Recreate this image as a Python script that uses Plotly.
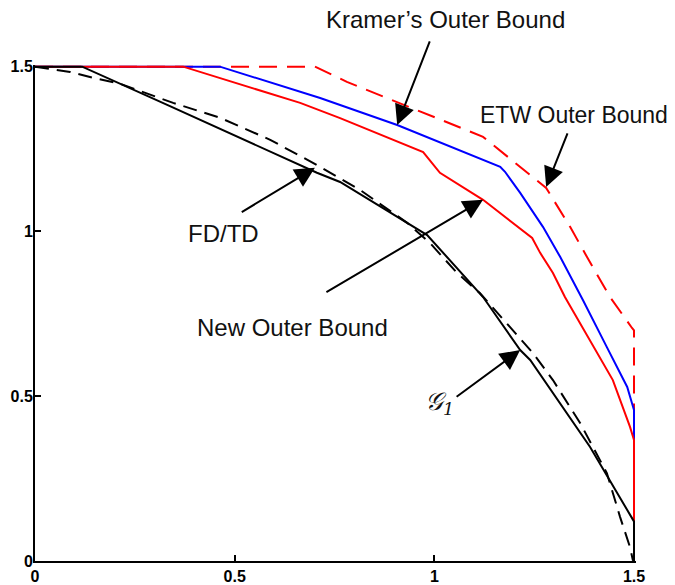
import plotly.graph_objects as go

# ---------------- data ----------------
etw_x = [0.0, 0.701, 0.781, 1.122, 1.280, 1.340, 1.382, 1.440, 1.495, 1.5, 1.5]
etw_y = [1.5, 1.5, 1.454, 1.287, 1.132, 1.014, 0.923, 0.801, 0.707, 0.70, 0.0]

kramer_x = [0.0, 0.463, 0.714, 0.907, 1.165, 1.177, 1.215, 1.272, 1.315, 1.372, 1.432, 1.483, 1.5, 1.5]
kramer_y = [1.5, 1.5, 1.405, 1.323, 1.196, 1.181, 1.117, 1.014, 0.923, 0.792, 0.649, 0.528, 0.458, 0.0]

new_x = [0.0, 0.371, 0.664, 0.764, 0.972, 1.014, 1.122, 1.172, 1.245, 1.265, 1.297, 1.327, 1.390, 1.447, 1.490, 1.5, 1.5]
new_y = [1.5, 1.5, 1.390, 1.344, 1.241, 1.178, 1.096, 1.050, 0.980, 0.935, 0.874, 0.801, 0.671, 0.549, 0.407, 0.367, 0.0]

fdtd_x = [0.0, 0.025, 0.088, 0.145, 0.213, 0.346, 0.463, 0.589, 0.696, 0.814, 0.932, 0.989, 1.057, 1.114, 1.247, 1.297, 1.365, 1.432, 1.465, 1.490, 1.497, 1.5]
fdtd_y = [1.5, 1.496, 1.484, 1.466, 1.448, 1.390, 1.345, 1.278, 1.208, 1.126, 1.026, 0.965, 0.874, 0.813, 0.631, 0.549, 0.419, 0.267, 0.134, 0.042, 0.003, 0.0]

g1_x = [0.0, 0.118, 0.331, 0.706, 0.764, 0.982, 1.122, 1.215, 1.240, 1.390, 1.498, 1.5, 1.5]
g1_y = [1.5, 1.5, 1.384, 1.178, 1.150, 0.989, 0.801, 0.640, 0.610, 0.346, 0.124, 0.12, 0.0]

tick_vals = [0, 0.5, 1, 1.5]
tick_text = ["0", "0.5", "1", "1.5"]

labels = ["Kramer’s Outer Bound", "ETW Outer Bound", "FD/TD", "New Outer Bound", "𝒢<sub>1</sub>"]
label_x = [1.027, 1.350, 0.473, 0.644, 1.012]
label_y = [1.642, 1.354, 0.995, 0.710, 0.480]
label_size = [24, 23, 24, 24, 25]

arrow_tail_x = [0.990, 1.335, 0.514, 0.726, 1.052]
arrow_tail_y = [1.581, 1.302, 1.056, 0.813, 0.495]
arrow_tip_x = [0.907, 1.280, 0.701, 1.122, 1.215]
arrow_tip_y = [1.323, 1.135, 1.193, 1.096, 0.640]

AX_MAX = 1.505

# ---------------- figure ----------------
fig = go.Figure()
fig.add_trace(go.Scatter(x=etw_x, y=etw_y, mode="lines", cliponaxis=False,
                         line=dict(color="#ff0000", width=2, dash="18px,10px")))
fig.add_trace(go.Scatter(x=kramer_x, y=kramer_y, mode="lines", cliponaxis=False,
                         line=dict(color="#0000ff", width=2)))
fig.add_trace(go.Scatter(x=new_x, y=new_y, mode="lines", cliponaxis=False,
                         line=dict(color="#ff0000", width=2)))
fig.add_trace(go.Scatter(x=fdtd_x, y=fdtd_y, mode="lines", cliponaxis=False,
                         line=dict(color="#000000", width=2, dash="14px,8px")))
fig.add_trace(go.Scatter(x=g1_x, y=g1_y, mode="lines", cliponaxis=False,
                         line=dict(color="#000000", width=2)))

font_main = "Arial, Liberation Sans, sans-serif"
for i, t in enumerate(labels):
    is_g = t.startswith("𝒢")
    # labels outside the axis range must use paper coordinates to be drawn
    if label_y[i] > AX_MAX:
        yref, yval = "paper", label_y[i] / AX_MAX
    else:
        yref, yval = "y", label_y[i]
    fig.add_annotation(x=label_x[i], y=yval, xref="x", yref=yref, text=t,
                       showarrow=False, xanchor="center", yanchor="middle",
                       font=dict(family=("DejaVu Serif, serif" if is_g else font_main),
                                 size=label_size[i], color="#111111",
                                 style=("italic" if is_g else "normal")))
    fig.add_annotation(x=arrow_tip_x[i], y=arrow_tip_y[i], xref="x", yref="y",
                       ax=arrow_tail_x[i], ay=arrow_tail_y[i], axref="x", ayref="y",
                       text="", showarrow=True, arrowhead=2, arrowsize=2.0,
                       arrowwidth=2, arrowcolor="#000000", standoff=0, startstandoff=0)

axis_common = dict(
    showgrid=False, zeroline=False, showline=True, linecolor="#000000", linewidth=2,
    ticks="inside", ticklen=6, tickwidth=1.5, tickcolor="#000000",
    tickvals=tick_vals, ticktext=tick_text,
    tickfont=dict(family=font_main, size=16, color="#000000", weight="bold"),
    mirror=False, automargin=False, fixedrange=True,
)
fig.update_xaxes(range=[0, AX_MAX], **axis_common)
fig.update_yaxes(range=[0, AX_MAX], ticklabelstandoff=-3, **axis_common)

# the page body adds an 8px margin, so the figure is sized to fit the window
fig.update_layout(
    width=667, height=577,
    margin=dict(l=27, r=39, t=57, b=24, pad=0),
    showlegend=False,
    plot_bgcolor="#ffffff", paper_bgcolor="#ffffff",
)

fig.write_html("out.html")
